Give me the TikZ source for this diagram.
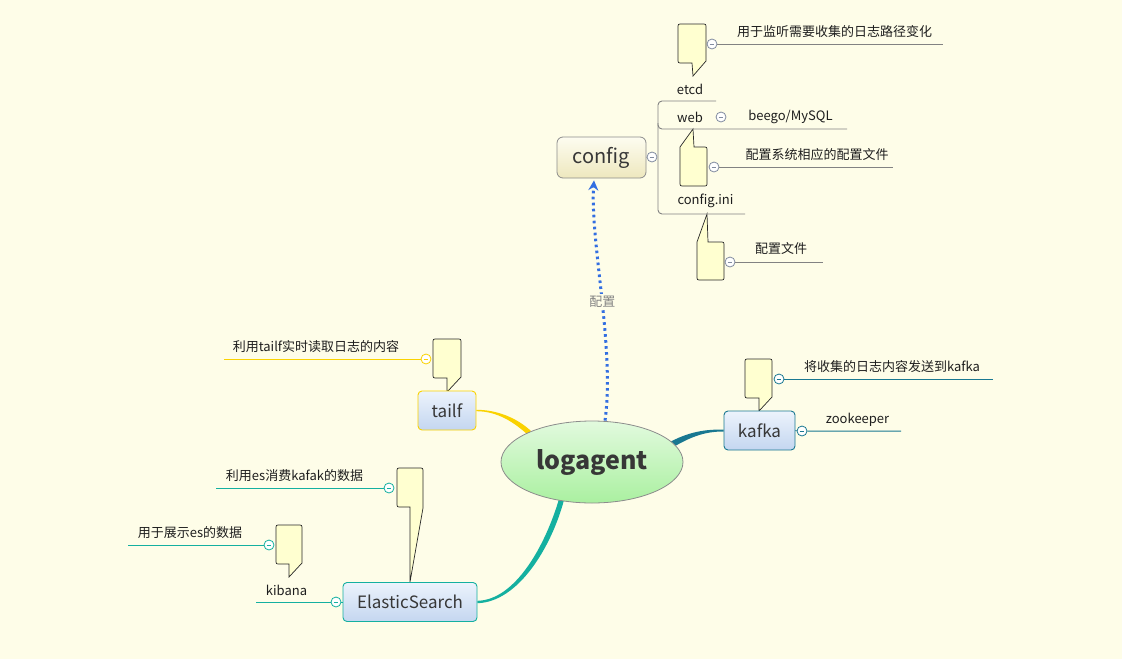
\documentclass[tikz,border=0pt]{standalone}
\usepackage{fontspec}
\setmainfont{Noto Sans CJK SC}
\usetikzlibrary{shapes.geometric,arrows.meta,calc,backgrounds}
\definecolor{bg}{RGB}{254,253,232}
\definecolor{notefill}{RGB}{255,255,208}
\definecolor{noteline}{RGB}{40,40,40}
\definecolor{txt}{RGB}{30,30,30}
\definecolor{ntxt}{RGB}{55,55,55}
\definecolor{bt}{RGB}{236,243,252}
\definecolor{bb}{RGB}{196,214,240}
\definecolor{yl}{RGB}{250,210,0}
\definecolor{es}{RGB}{20,176,160}
\definecolor{kf}{RGB}{25,120,145}
\definecolor{gl}{RGB}{130,130,130}
\definecolor{cgray}{RGB}{130,140,160}
\definecolor{ab}{RGB}{50,110,225}
\definecolor{lgt}{RGB}{226,250,222}
\definecolor{lgb}{RGB}{170,240,160}
\definecolor{cft}{RGB}{253,252,240}
\definecolor{cfb}{RGB}{238,232,190}
\definecolor{bord}{RGB}{140,140,140}
\tikzset{
 coll/.style={circle, draw=#1, fill=white, minimum size=10pt, inner sep=0pt, line width=0.8pt,
   path picture={\draw[#1, line width=0.8pt] ([xshift=-2.4pt]path picture bounding box.center) -- ([xshift=2.4pt]path picture bounding box.center);}},
 note/.style={fill=notefill, draw=noteline, line width=0.7pt, line join=miter},
 lbl/.style={font=\fontsize{13}{15}\selectfont, text=txt, inner sep=0pt},
 topic/.style={rectangle, rounded corners=4pt, minimum height=39pt, font=\fontsize{17}{20}\selectfont, text=ntxt, line width=0.9pt, top color=bt, bottom color=bb},
 gline/.style={draw=gl, line width=0.9pt},
 yline/.style={draw=yl, line width=1pt},
 esline/.style={draw=es, line width=1pt},
 kfline/.style={draw=kf, line width=1pt},
}
\begin{document}
\begin{tikzpicture}[x=1pt,y=-1pt]
\path[use as bounding box] (0,0) rectangle (1122,659);

% ---- notes (callouts)
\path[note] (693,76) -- (692,63) -- (682,63) .. controls (678,63) .. (678,59) -- (678,28) .. controls (678,24) .. (682,24) -- (702,24) .. controls (706,24) .. (706,28) -- (706,61) -- cycle;
\path[note] (680,147) -- (693,129) -- (694,147) -- (703,147) .. controls (707,147) .. (707,151) -- (707,182) .. controls (707,186) .. (703,186) -- (684,186) .. controls (680,186) .. (680,182) -- cycle;
\path[note] (697,242) -- (707,214) -- (708,242) -- (720,242) .. controls (724,242) .. (724,246) -- (724,276) .. controls (724,280) .. (720,280) -- (701,280) .. controls (697,280) .. (697,276) -- cycle;
\path[note] (447,392) -- (447,378) -- (437,378) .. controls (433,378) .. (433,374) -- (433,343) .. controls (433,339) .. (437,339) -- (457,339) .. controls (461,339) .. (461,343) -- (461,377) -- cycle;
\path[note] (410,582) -- (410,507) -- (401,507) .. controls (397,507) .. (397,503) -- (397,472) .. controls (397,468) .. (401,468) -- (419,468) .. controls (423,468) .. (423,472) -- (423,508) -- cycle;
\path[note] (289,577) -- (289,564) -- (280,564) .. controls (276,564) .. (276,560) -- (276,529) .. controls (276,525) .. (280,525) -- (298,525) .. controls (302,525) .. (302,529) -- (302,563) -- cycle;
\path[note] (759,411) -- (759,398) -- (749,398) .. controls (745,398) .. (745,394) -- (745,363) .. controls (745,359) .. (749,359) -- (768,359) .. controls (772,359) .. (772,363) -- (772,397) -- cycle;

% ---- main topics
\node[ellipse, draw=bord, line width=0.8pt, minimum width=182pt, minimum height=82pt, inner sep=0pt,
  top color=lgt, bottom color=lgb, font=\bfseries\fontsize{25}{30}\selectfont, text=ntxt] (logagent) at (592,462) {logagent};
\node[rectangle, rounded corners=6pt, draw=bord, line width=0.8pt, minimum width=89pt, minimum height=41pt,
  top color=cft, bottom color=cfb, font=\fontsize{20}{24}\selectfont, text=ntxt] (config) at (601.5,157.5) {config};
\node[topic, draw=yl, minimum width=58pt] (tailf) at (447,410.5) {tailf};
\node[topic, draw=es, minimum width=134pt] (ES) at (410,602) {ElasticSearch};
\node[topic, draw=kf, minimum width=71pt] (kafka) at (759.5,430.5) {kafka};

% ---- labels
\node[lbl] (t_etcd1) at (834.5,32) {用于监听需要收集的日志路径变化};
\node[lbl] (t_etcd) at (690,89) {etcd};
\node[lbl] (t_web) at (690,117) {web};
\node[lbl] (t_beego) at (790.5,117) {beego/MySQL};
\node[lbl] (t_cfgsys) at (817,155) {配置系统相应的配置文件};
\node[lbl] (t_ini) at (705.5,201) {config.ini};
\node[lbl] (t_cfgfile) at (781,249) {配置文件};
\node[lbl] (t_tailf1) at (316,347) {利用tailf实时读取日志的内容};
\node[lbl] (t_es1) at (294.5,476) {利用es消费kafak的数据};
\node[lbl] (t_kib1) at (190,533) {用于展示es的数据};
\node[lbl] (t_kib) at (286.5,590.5) {kibana};
\node[lbl] (t_kf1) at (892,367) {将收集的日志内容发送到kafka};
\node[lbl] (t_zk) at (857.5,419.5) {zookeeper};

% ---- collapse circles
\node[coll=cgray] (c_cfg) at (652,157) {};
\node[coll=cgray] (c_etcd) at (712,44) {};
\node[coll=cgray] (c_web) at (721,117) {};
\node[coll=cgray] (c_sys) at (714,167) {};
\node[coll=cgray] (c_file) at (730,262) {};
\node[coll=yl] (c_tailf) at (426,359) {};
\node[coll=es] (c_es) at (389,488) {};
\node[coll=es] (c_kibn) at (269,545) {};
\node[coll=es] (c_kib) at (336,602) {};
\node[coll=kf] (c_kf) at (779,379) {};
\node[coll=kf] (c_zk) at (802,431) {};

% ---- line ends
\coordinate (e_etcd) at (943,44);
\coordinate (e_sys) at (893,167);
\coordinate (e_file) at (823,262);
\coordinate (e_tailf) at (224,359);
\coordinate (e_es) at (216,488);
\coordinate (e_kibn) at (128,545);
\coordinate (e_kib) at (256,602);
\coordinate (e_kf) at (993,379);
\coordinate (e_zk) at (901,431);

% ---- config branch lines
\draw[gline] (config.east) -- (c_cfg);
\draw[gline, rounded corners=4pt] (716,101) -- (658,101) -- (658,214) -- (745,214);
\draw[gline, rounded corners=4pt] (658,123) -- (658,129) -- (847,129);
\draw[gline] (c_etcd) -- (e_etcd);
\draw[gline] (c_sys) -- (e_sys);
\draw[gline] (c_file) -- (e_file);

% ---- other lines
\draw[yline] (e_tailf) -- (c_tailf);
\draw[esline] (e_es) -- (c_es);
\draw[esline] (e_kibn) -- (c_kibn);
\draw[esline] (e_kib) -- (c_kib) -- (ES.west);
\draw[kfline] (c_kf) -- (e_kf);
\draw[kfline] (kafka.east) -- (c_zk) -- (e_zk);

% ---- dotted arrow
\draw[ab, line width=3pt, dash pattern=on 2.6pt off 3.4pt, -{Stealth[length=10pt,width=10pt]}]
  ($(logagent.north)+(13,0)$) .. controls ($(logagent.north)+(23,-71)$) and ($(config.south)+(-11.5,62)$) .. ($(config.south)+(-7.5,2)$)
  node[pos=0.48, fill=bg, inner sep=1.5pt, text=gl, font=\fontsize{13}{15}\selectfont] (lbl_cfg) {配置};

% ---- background + tapered connectors
\begin{scope}[on background layer]
\fill[bg] (0,0) rectangle (1122,659);
\fill[yl] ($(tailf.east)+(0,-0.7)$) .. controls ($(tailf.east)+(20,-0.7)$) and ($(tailf.east)+(40,7)$) .. ($(logagent.center)+(-61,-31)$)
  -- ($(logagent.center)+(-64,-27)$) .. controls ($(tailf.east)+(37,11)$) and ($(tailf.east)+(20,0.7)$) .. ($(tailf.east)+(0,0.7)$) -- cycle;
\fill[kf] ($(logagent.center)+(74,-18)$) .. controls ($(kafka.west)+(-34,0.5)$) and ($(kafka.west)+(-18,-1)$) .. ($(kafka.west)+(0,-1)$)
  -- ($(kafka.west)+(0,1)$) .. controls ($(kafka.west)+(-18,1)$) and ($(kafka.west)+(-32,5.5)$) .. ($(logagent.center)+(78,-13)$) -- cycle;
\fill[es] ($(logagent.center)+(-33,37)$) .. controls ($(ES.east)+(68,-57)$) and ($(ES.east)+(38,-2)$) .. ($(ES.east)+(0,-1.2)$)
  -- ($(ES.east)+(0,1.2)$) .. controls ($(ES.east)+(41,0)$) and ($(ES.east)+(74,-55)$) .. ($(logagent.center)+(-28,38)$) -- cycle;
\end{scope}
\end{tikzpicture}
\end{document}
